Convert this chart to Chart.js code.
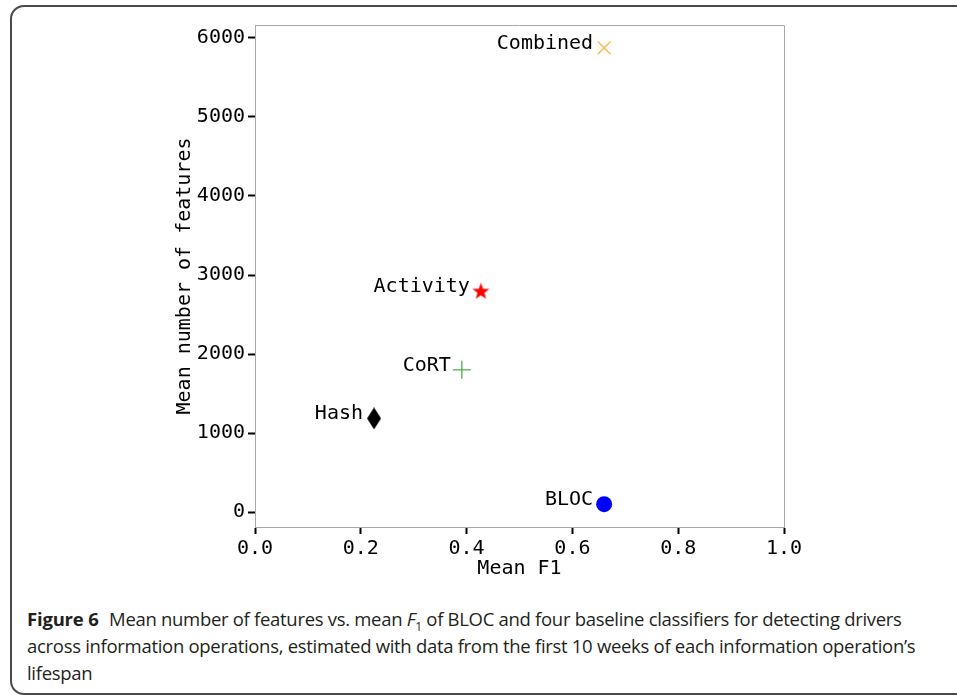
<!DOCTYPE html>
<html>
<head>
<meta charset="utf-8">
<title>Mean features vs mean F1</title>
<script src="https://cdn.jsdelivr.net/npm/chart.js@4.4.0/dist/chart.umd.min.js"></script>
<style>
    html, body { margin: 0; padding: 0; background: #fff; }
    body { width: 957px; height: 696px; overflow: hidden; position: relative; }
    #frame {
        position: absolute; left: 10px; top: 5px;
        width: 980px; height: 686px;
        border: 2px solid #4a4a4a; border-radius: 14px;
    }
    #chartCanvas { position: absolute; left: 0; top: 0; }
    #caption {
        position: absolute; left: 27px; top: 605px;
        font-family: 'Open Sans', sans-serif; font-size: 18.5px; line-height: 27px;
        color: #231f20; white-space: nowrap; letter-spacing: -0.3px;
    }
    #caption b { letter-spacing: -0.2px; margin-right: 6px; }
    #caption sub { font-size: 12px; line-height: 0; }
</style>
</head>
<body>
<div id="frame"></div>
<canvas id="chartCanvas" width="957" height="590"></canvas>
<div id="caption">
    <b>Figure 6</b> Mean number of features vs. mean <i>F</i><sub>1</sub> of BLOC and four baseline classifiers for detecting drivers<br>
    across information operations, estimated with data from the first 10 weeks of each information operation’s<br>
    lifespan
</div>

<script>
// Data
const classifiers = ['BLOC', 'Hash', 'CoRT', 'Activity', 'Combined'];
const meanF1 = [0.66, 0.225, 0.391, 0.427, 0.66];
const meanFeatures = [100, 1185, 1800, 2800, 5875];
const xTicks = [0.0, 0.2, 0.4, 0.6, 0.8, 1.0];
const yTicks = [0, 1000, 2000, 3000, 4000, 5000, 6000];

const markerColors = ['#0000ff', '#000000', '#4cae4c', '#ff0000', '#ffb347'];

const monoFont = "'DejaVu Sans Mono', monospace";

// Custom marker shapes drawn on small canvases
function makeStar(color, size) {
    const c = document.createElement('canvas');
    c.width = size; c.height = size;
    const ctx = c.getContext('2d');
    const cx = size / 2, cy = size / 2 + 0.8;
    const outer = size / 2 - 0.5, inner = outer * 0.4;
    ctx.beginPath();
    for (let i = 0; i < 10; i++) {
        const r = i % 2 === 0 ? outer : inner;
        const a = -Math.PI / 2 + i * Math.PI / 5;
        ctx.lineTo(cx + r * Math.cos(a), cy + r * Math.sin(a));
    }
    ctx.closePath();
    ctx.fillStyle = color;
    ctx.fill();
    return c;
}

function makeThinDiamond(color, w, h) {
    const c = document.createElement('canvas');
    c.width = w; c.height = h;
    const ctx = c.getContext('2d');
    ctx.beginPath();
    ctx.moveTo(w / 2, 0);
    ctx.lineTo(w, h / 2);
    ctx.lineTo(w / 2, h);
    ctx.lineTo(0, h / 2);
    ctx.closePath();
    ctx.fillStyle = color;
    ctx.fill();
    return c;
}

const markerStyles = [
    'circle',
    makeThinDiamond(markerColors[1], 14, 22),
    'cross',
    makeStar(markerColors[3], 19),
    'crossRot'
];
const markerRadius = [8, 8, 9, 8, 9];
const markerBorder = [0, 0, 1.3, 0, 1.3];

const datasets = classifiers.map((name, i) => ({
    label: name,
    data: [{ x: meanF1[i], y: meanFeatures[i] }],
    pointStyle: markerStyles[i],
    pointRadius: markerRadius[i],
    pointHoverRadius: markerRadius[i],
    pointBorderWidth: markerBorder[i],
    pointBackgroundColor: markerColors[i],
    pointBorderColor: markerColors[i]
}));

// Text labels to the left of each marker, plus top/right spines
const annotatePlugin = {
    id: 'annotate',
    afterDatasetsDraw(chart) {
        const ctx = chart.ctx;
        ctx.save();
        ctx.font = "20px " + monoFont;
        ctx.fillStyle = '#000';
        ctx.textAlign = 'right';
        ctx.textBaseline = 'alphabetic';
        chart.data.datasets.forEach((ds, i) => {
            const pt = chart.getDatasetMeta(i).data[0];
            ctx.fillText(ds.label, pt.x - 11, pt.y + 1);
        });
        ctx.restore();
    },
    afterDraw(chart) {
        const a = chart.chartArea;
        const ctx = chart.ctx;
        ctx.save();
        ctx.strokeStyle = '#aaaaaa';
        ctx.lineWidth = 1;
        ctx.beginPath();
        ctx.moveTo(a.left, a.top + 0.5);
        ctx.lineTo(a.right + 0.5, a.top + 0.5);
        ctx.lineTo(a.right + 0.5, a.bottom);
        ctx.stroke();
        ctx.restore();
    }
};

new Chart(document.getElementById('chartCanvas'), {
    type: 'scatter',
    data: { datasets: datasets },
    options: {
        responsive: false,
        animation: false,
        devicePixelRatio: 1,
        layout: { padding: { left: 173, top: 25, right: 173, bottom: 9 } },
        plugins: {
            legend: { display: false },
            tooltip: { enabled: false }
        },
        scales: {
            x: {
                type: 'linear',
                min: 0, max: 1,
                afterFit: (scale) => { scale.height = 54; },
                afterBuildTicks: (scale) => { scale.ticks = xTicks.map(v => ({ value: v })); },
                border: { color: '#aaaaaa', width: 1 },
                grid: { drawOnChartArea: false, tickLength: 7, tickColor: '#000', tickWidth: 2 },
                ticks: {
                    padding: 3,
                    color: '#000',
                    font: { family: monoFont, size: 20 },
                    callback: (v) => v.toFixed(1)
                },
                title: {
                    display: true, text: 'Mean F1', color: '#000', padding: 0,
                    font: { family: monoFont, size: 20 }
                }
            },
            y: {
                type: 'linear',
                min: -189, max: 6164,
                afterFit: (scale) => { scale.width = 82; },
                afterBuildTicks: (scale) => { scale.ticks = yTicks.map(v => ({ value: v })); },
                border: { color: '#aaaaaa', width: 1 },
                grid: { drawOnChartArea: false, tickLength: 7, tickColor: '#000', tickWidth: 2 },
                ticks: {
                    padding: 3,
                    color: '#000',
                    font: { family: monoFont, size: 20 },
                    callback: (v) => String(v)
                },
                title: {
                    display: true, text: 'Mean number of features', color: '#000', padding: 0,
                    font: { family: monoFont, size: 20 }
                }
            }
        }
    },
    plugins: [annotatePlugin]
});
</script>
</body>
</html>
